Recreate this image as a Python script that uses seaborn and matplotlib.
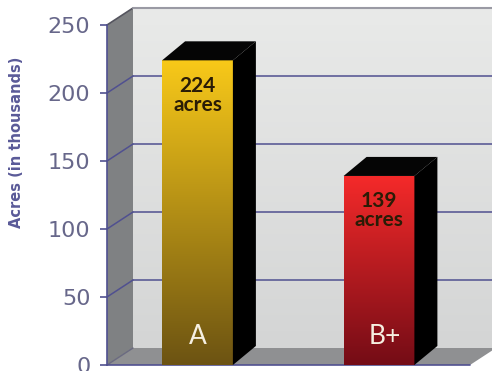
import numpy as np
import matplotlib
matplotlib.use("Agg")
import matplotlib.pyplot as plt
from matplotlib.patches import Polygon
from matplotlib.colors import LinearSegmentedColormap
import seaborn as sns

# Data
categories = ["A", "B+"]
acres = [224, 139]
value_labels = ["224\nacres", "139\nacres"]
bar_top_colors = ["#f8c919", "#f52a2a"]
bar_bottom_colors = ["#6c5312", "#740c16"]
yticks = [0, 50, 100, 150, 200, 250]

sns.set_theme(style="white")
plt.rcParams["font.family"] = ["Lato", "DejaVu Sans"]

W, H = 492, 371
fig = plt.figure(figsize=(W / 100, H / 100), dpi=100)
fig.patch.set_facecolor("white")
ax = fig.add_axes([107 / W, 6 / H, 385 / W, 340 / H])
ax.set_facecolor("none")

df = {"cat": categories, "val": acres}
sns.barplot(x="cat", y="val", data=df, width=0.39, ax=ax, color="white",
            linewidth=0, saturation=1, zorder=5)

xl, xr = -0.4986, 1.6226
ax.set_xlim(xl, xr)
ax.set_ylim(0, 250)

# depth of the box (wall) and of the bars, in data units
wdx, wdy = 26 / 181.5, 12.5
bdx, bdy = 23 / 181.5, 14.0

navy = "#505090"

# back wall with vertical gradient
wall_cmap = LinearSegmentedColormap.from_list("wall", ["#d4d5d5", "#e9eae9"])
grad = np.linspace(0, 1, 256).reshape(-1, 1)
ax.imshow(grad, cmap=wall_cmap, origin="lower", aspect="auto",
          extent=[xl + wdx, xr + 0.2, wdy, 250 + wdy], zorder=0, clip_on=False)
ax.set_xlim(xl, xr)
ax.set_ylim(0, 250)

# side wall
side = Polygon([(xl, 0), (xl, 250), (xl + wdx, 250 + wdy), (xl + wdx, wdy)],
               closed=True, facecolor="#7f8183", edgecolor="none", zorder=1,
               clip_on=False)
ax.add_patch(side)

# floor
xfb = (470 - 197.5) / 181.5
floor = Polygon([(xl, 0), (xl + wdx, wdy), (xfb + wdx, wdy), (xfb, 0)],
                closed=True, facecolor="#8f9092", edgecolor="none", zorder=1,
                clip_on=False)
ax.add_patch(floor)
ax.plot([xl, xfb], [0, 0], color=navy, lw=1.2, zorder=2, clip_on=False)

# grid lines on the back and side walls
for v in yticks[1:-1]:
    ax.plot([xl + wdx, xr + 0.2], [v + wdy, v + wdy], color=navy, lw=1.1,
            zorder=1.5, clip_on=False)
    ax.plot([xl, xl + wdx], [v, v + wdy], color=navy, lw=1.1, zorder=1.5,
            clip_on=False)
ax.plot([xl, xl + wdx], [0, wdy], color="#6a6a80", lw=1.0, zorder=1.5,
        clip_on=False)
ax.plot([xl, xl + wdx], [250, 250 + wdy], color="#55555f", lw=1.2, zorder=1.5,
        clip_on=False)
ax.plot([xl + wdx, xr + 0.2], [250 + wdy, 250 + wdy], color="#9a9aa4", lw=1.5,
        zorder=1.5, clip_on=False)

# bars: gradient front faces plus black top and side faces
for i, patch in enumerate(ax.patches[:len(categories)]):
    x0 = patch.get_x()
    w = patch.get_width()
    h = patch.get_height()
    x1 = x0 + w
    cmap = LinearSegmentedColormap.from_list(
        f"bar{i}", [bar_bottom_colors[i], bar_top_colors[i]])
    im = ax.imshow(grad, cmap=cmap, origin="lower", aspect="auto",
                   extent=[x0, x1, 0, h], zorder=6)
    im.set_clip_path(patch)
    top = Polygon([(x0, h), (x0 + bdx, h + bdy), (x1 + bdx, h + bdy), (x1, h)],
                  closed=True, facecolor="#050505", edgecolor="none", zorder=6)
    ax.add_patch(top)
    sidef = Polygon([(x1, 0), (x1, h), (x1 + bdx, h + bdy), (x1 + bdx, bdy)],
                    closed=True, facecolor="#000000", edgecolor="none", zorder=6)
    ax.add_patch(sidef)
    cx = x0 + w / 2
    ax.annotate(value_labels[i], xy=(cx, h), xytext=(0, -11),
                textcoords="offset points", ha="center", va="top",
                fontsize=15, fontweight="bold", color="#2a1c06",
                linespacing=0.95, zorder=8)
    ax.text(cx + (0.03 if len(categories[i]) > 1 else 0), 21, categories[i],
            ha="center", va="center", fontsize=19, color="#f6f0e2", zorder=8)

ax.set_xlim(xl, xr)
ax.set_ylim(0, 250)
ax.set_xticks([])
ax.set_xlabel("")
ax.set_yticks(yticks)
ax.tick_params(axis="y", left=True, length=5, width=1.2, color=navy,
               labelsize=16, labelcolor="#67678a", pad=7)
for lbl in ax.get_yticklabels():
    lbl.set_family(["DejaVu Sans"])
for s in ["top", "right", "bottom"]:
    ax.spines[s].set_visible(False)
ax.spines["left"].set_color(navy)
ax.spines["left"].set_linewidth(1.2)
ax.spines["left"].set_zorder(3)
ax.set_ylabel("")
fig.text(17 / W, 1 - 142 / H, "Acres (in thousands)", rotation=90,
         ha="center", va="center", fontsize=10.5, fontweight="bold",
         color="#5a5a98", family=["DejaVu Sans"])

fig.savefig("out.png", dpi=100)
